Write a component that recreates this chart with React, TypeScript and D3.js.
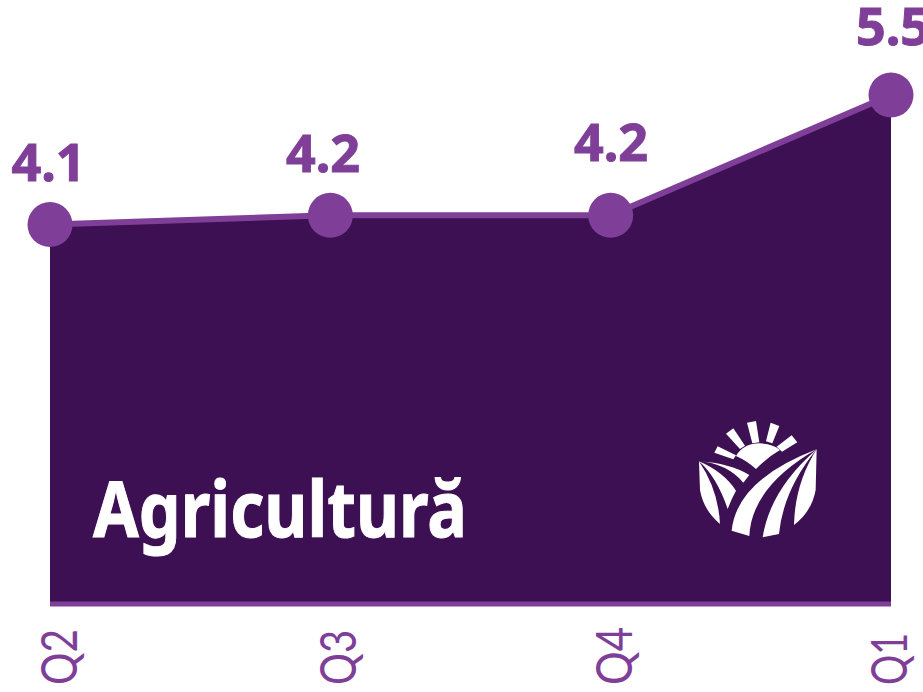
import React from "react";
import * as d3 from "d3";

const quarters = ["Q2", "Q3", "Q4", "Q1"];
const values = [4.1, 4.2, 4.2, 5.5];
const valueLabels = ["4.1", "4.2", "4.2", "5.5"];
const title = "Agricultură";

const PURPLE = "#7f3f98";
const DARK = "#3c1053";

const logoRays = [
  "M103,158L113,139L168,166L160,178Z",
  "M138,101L160,85L195,137L180,147Z",
  "M201,68L228,63L238,127L217,130Z",
  "M272,68L298,78L277,130L258,124Z",
  "M335,106L352,127L306,155L290,140Z",
];
const logoShapes = [
  "M168,168Q190,130 240,130Q280,132 300,150Q262,172 228,207Q200,182 168,168Z",
  "M57,184L60,270Q70,330 120,372Q115,270 57,184Z",
  "M57,184Q110,230 143,327Q155,295 168,272Q130,215 57,184Z",
  "M57,184Q140,190 190,248L208,225Q150,190 57,184Z",
  "M410,148Q170,240 155,392L208,408Q215,260 410,148Z",
  "M410,148Q270,270 248,412L297,402Q310,270 410,148Z",
  "M410,148Q345,250 342,375Q395,335 407,270Z",
];

const labelCx = [48.5, 323, 611, 893];
const labelBase = [181, 172, 161, 45];
const tickBase = [77, 356, 632, 907];
const tickLen = [56, 55, 58, 52];

export default function App() {
  const x = d3.scalePoint<string>().domain(quarters).range([50, 891]);
  const y = d3.scaleLinear().domain([0, 5.5]).range([604, 95]);
  const pts = quarters.map((q, i) => [x(q) as number, y(values[i])] as [number, number]);
  const area = d3.area<[number, number]>().x((d) => d[0]).y0(y(0)).y1((d) => d[1])(pts) as string;
  const line = d3.line()(pts) as string;
  return (
    <svg
      width={923}
      height={692}
      viewBox="0 0 923 692"
      style={{ position: "absolute", left: 0, top: 0, display: "block" }}
    >
      <path d={area} fill={DARK} />
      <path d={line} fill="none" stroke={PURPLE} strokeWidth={6} />
      <line x1={50} x2={891} y1={604} y2={604} stroke={PURPLE} strokeWidth={5} />
      {pts.map((p, i) => (
        <circle key={i} cx={p[0]} cy={p[1]} r={22.5} fill={PURPLE} />
      ))}
      {pts.map((p, i) => (
        <text
          key={i}
          x={labelCx[i]}
          y={labelBase[i]}
          textAnchor="middle"
          fontFamily="'Noto Sans', sans-serif"
          fontWeight={700}
          fontSize={52}
          stroke={PURPLE}
          strokeWidth={1}
          fill={PURPLE}
        >
          {valueLabels[i]}
        </text>
      ))}
      {pts.map((p, i) => (
        <text
          key={i}
          transform={`translate(${tickBase[i]},685) rotate(-90)`}
          fontFamily="Lato, sans-serif"
          fontWeight={400}
          fontSize={50}
          textLength={tickLen[i]}
          lengthAdjust="spacingAndGlyphs"
          fill={PURPLE}
        >
          {quarters[i]}
        </text>
      ))}
      <text
        x={93}
        y={537}
        fontFamily="'Noto Sans', sans-serif"
        fontWeight={700}
        fontSize={77}
        textLength={374}
        lengthAdjust="spacingAndGlyphs"
        stroke="#fff"
        strokeWidth={1}
        fill="#fff"
      >
        {title}
      </text>
      <g transform="translate(680,400) scale(0.3333)" fill="#fff">
        {logoRays.map((d, i) => (
          <path key={i} d={d} />
        ))}
        {logoShapes.map((d, i) => (
          <path key={i} d={d} />
        ))}
      </g>
    </svg>
  );
}
